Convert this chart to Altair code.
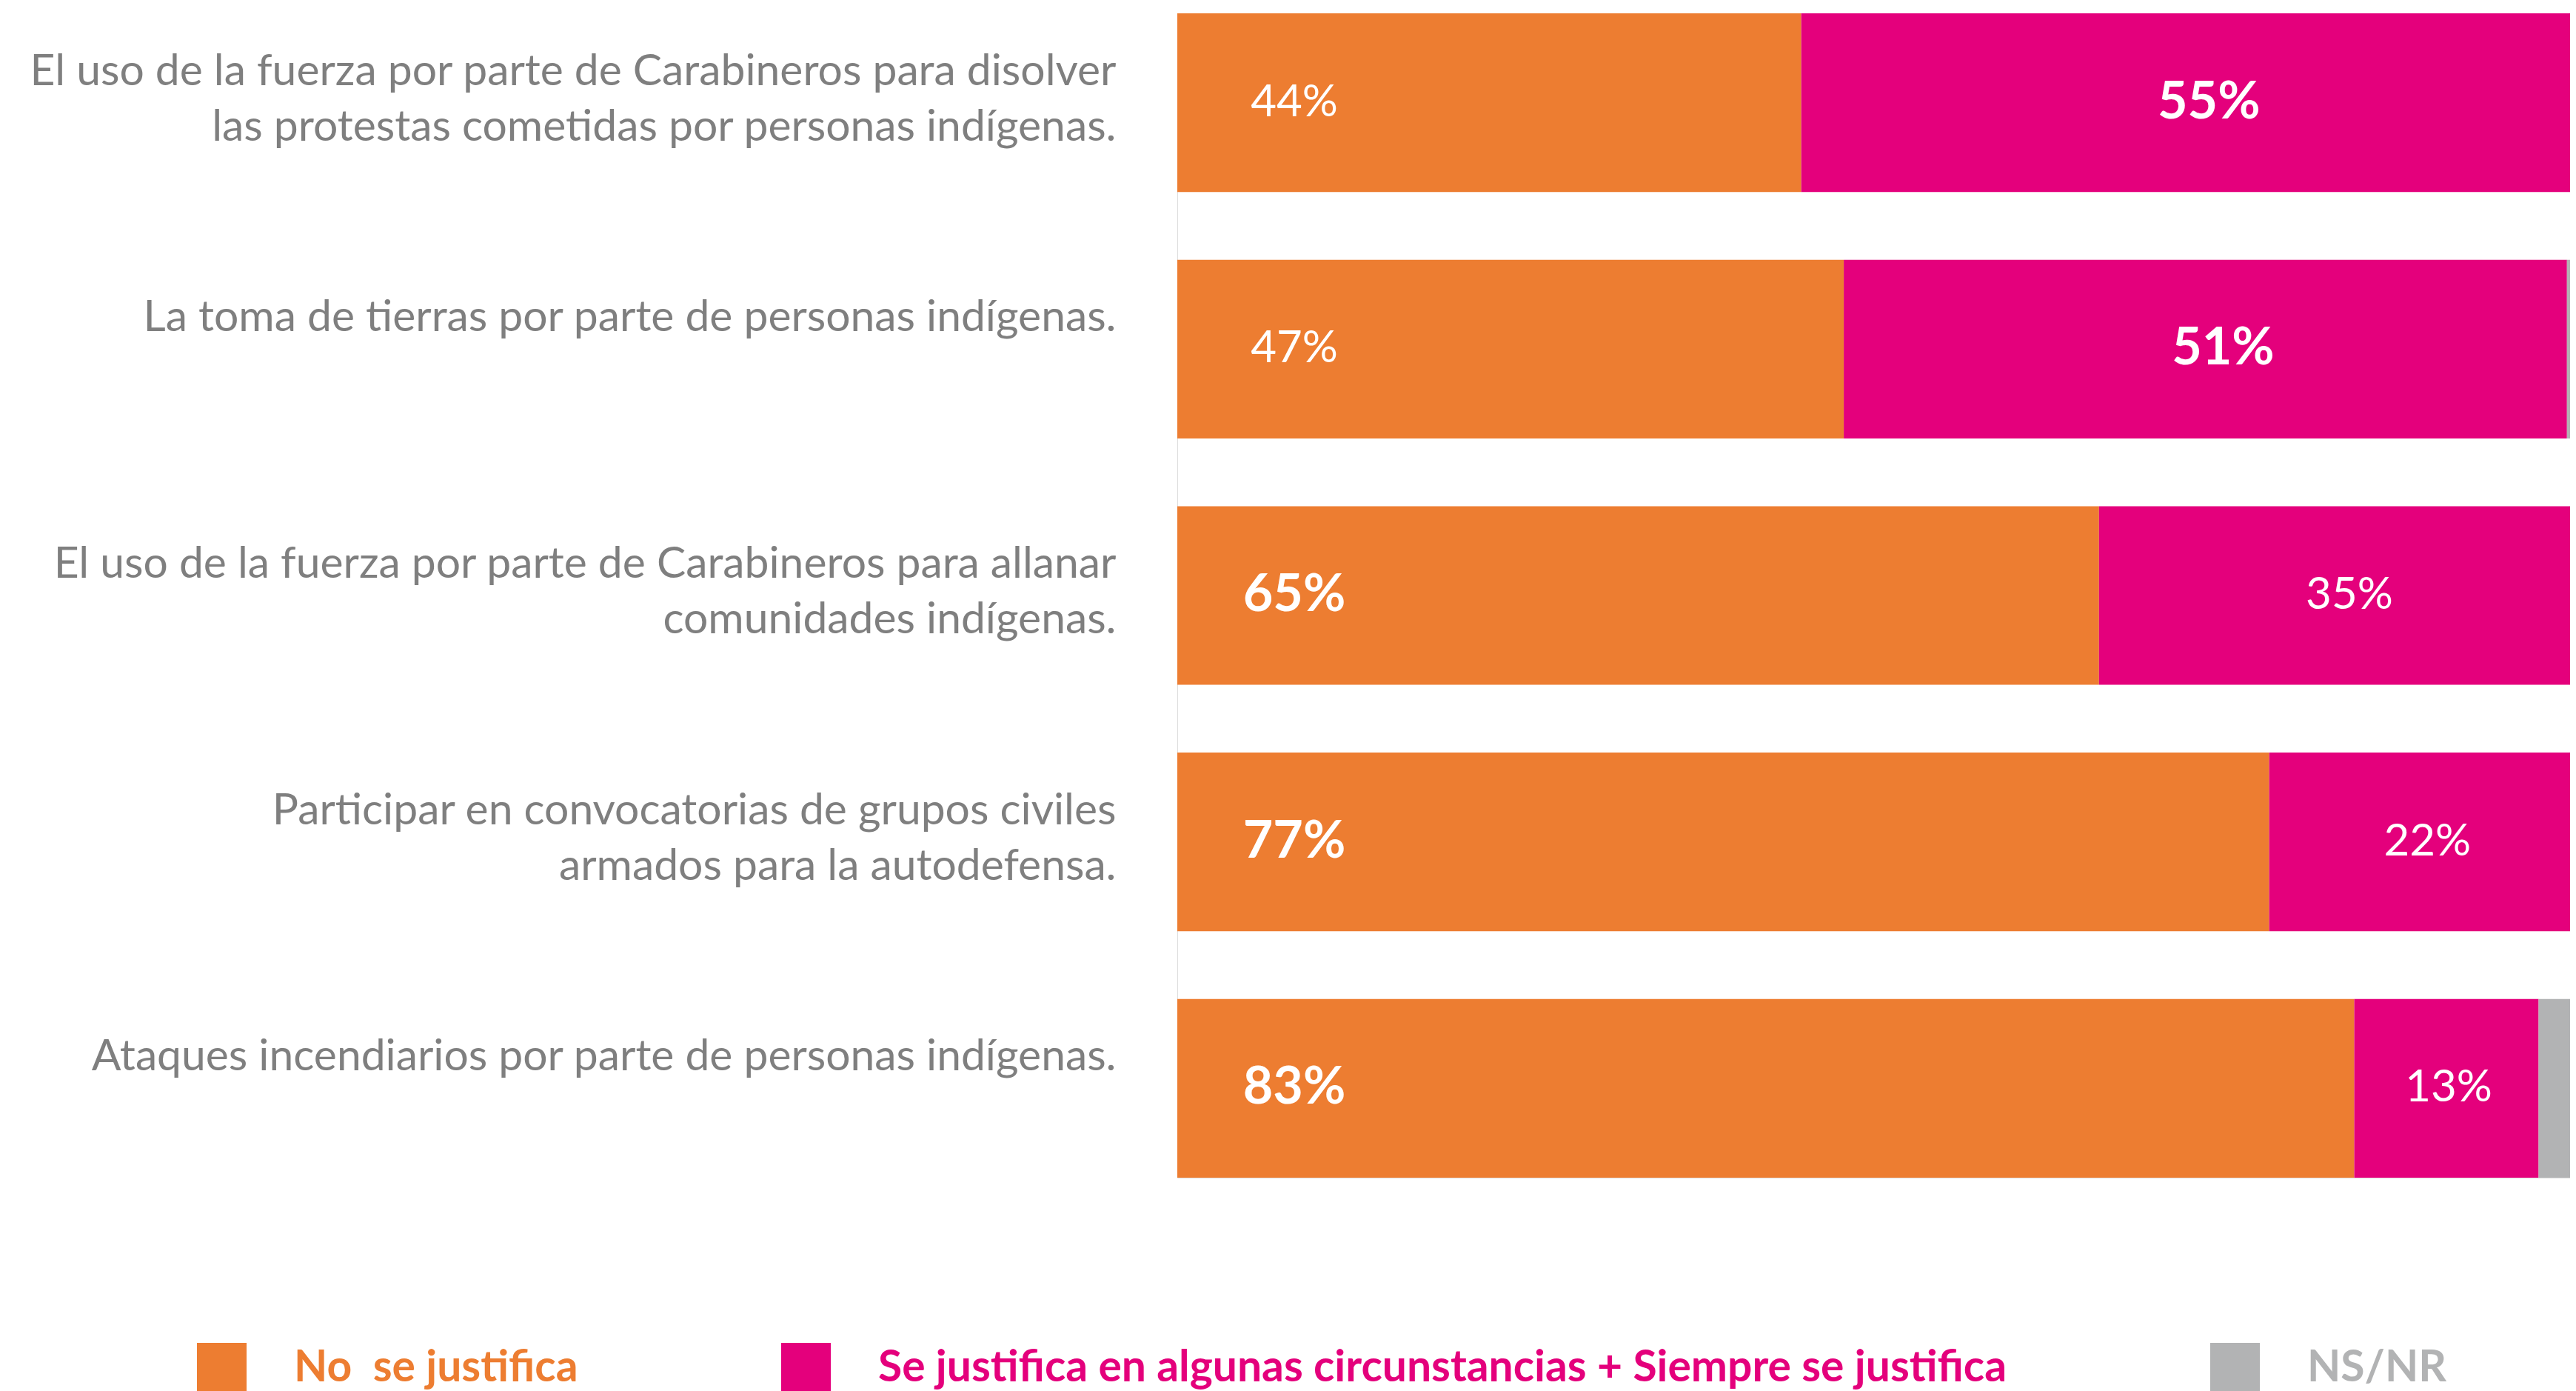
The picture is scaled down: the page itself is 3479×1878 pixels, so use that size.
import altair as alt
import pandas as pd

categories = [
    "El uso de la fuerza por parte de Carabineros para disolver\u2002|las protestas cometidas por personas indígenas.",
    "La toma de tierras por parte de personas indígenas.",
    "El uso de la fuerza por parte de Carabineros para allanar|comunidades indígenas.",
    "Participar en convocatorias de grupos civiles|armados para la autodefensa.",
    "Ataques incendiarios por parte de personas indígenas.",
]
no_justifica = [44, 47, 65, 77, 83]
si_justifica = [55, 51, 35, 22, 13]
ns_nr = [1, 2, 0, 1, 4]

series = [
    "No\u00a0 se justifica",
    "Se justifica en algunas circunstancias + Siempre se justifica",
    "NS/NR",
]
colors = ["#ED7D31", "#E4007C", "#B2B3B4"]

wide = pd.DataFrame({"cat": categories, "no": no_justifica, "si": si_justifica, "ns": ns_nr})

rows = []
for i, c in enumerate(categories):
    for k, (s, vals) in enumerate(zip(series, [no_justifica, si_justifica, ns_nr])):
        rows.append({"cat": c, "series": s, "value": vals[i], "order": k})
long = pd.DataFrame(rows)

y_enc = alt.Y(
    "cat:N",
    sort=categories,
    scale=alt.Scale(paddingInner=0.275, paddingOuter=0),
    axis=alt.Axis(
        title=None, domain=False, ticks=False, grid=False,
        labelExpr="split(datum.label, '|')",
        labelFont="Lato", labelFontSize=58.8, labelColor="#7f7f7f",
        labelPadding=83, labelBaseline="top", labelOffset=-70,
        labelLineHeight=75, labelLimit=3000, labelAlign="right",
    ),
)
# visible part of the 0-100 % axis (the right end is cut off, as in the source image)
x_scale = alt.Scale(domain=[0, 98.22], nice=False, zero=True)

legend_color = (
    "datum.label == 'NS/NR' ? '#B2B3B4' : "
    "(indexof(datum.label, 'algunas') >= 0 ? '#E4007C' : '#ED7D31')"
)

bars = alt.Chart(long).mark_bar(clip=True).encode(
    y=y_enc,
    x=alt.X("value:Q", stack="zero", scale=x_scale, axis=None),
    color=alt.Color(
        "series:N",
        scale=alt.Scale(domain=series, range=colors),
        legend=alt.Legend(
            title=None, orient="none", legendX=-1324, legendY=1795,
            direction="horizontal", symbolType="square", symbolSize=4489,
            symbolStrokeWidth=0, symbolOpacity=1,
            labelFont="Lato", labelFontSize=58.8, labelFontWeight="bold",
            labelOffset=64, columnPadding=274, labelLimit=3000, padding=0,
            labelColor=alt.ExprRef(expr=legend_color),
        ),
    ),
    order=alt.Order("order:Q"),
)

base = alt.Chart(wide)

no_pos = base.transform_calculate(start="0", lbl="datum.no + '%'")
no_bold = no_pos.transform_filter("datum.no > 50").mark_text(
    font="Lato", fontSize=70, fontWeight="bold", color="white",
    align="center", baseline="middle", dx=158,
).encode(y=y_enc, x=alt.X("start:Q", scale=x_scale), text="lbl:N")
no_reg = no_pos.transform_filter("datum.no <= 50").mark_text(
    font="Lato", fontSize=60, fontWeight="normal", color="white",
    align="center", baseline="middle", dx=158,
).encode(y=y_enc, x=alt.X("start:Q", scale=x_scale), text="lbl:N")

si_pos = base.transform_calculate(mid="datum.no + datum.si / 2", lbl="datum.si + '%'")
si_bold = si_pos.transform_filter("datum.si > 50").mark_text(
    font="Lato", fontSize=70, fontWeight="bold", color="white",
    align="center", baseline="middle", dx=24,
).encode(y=y_enc, x=alt.X("mid:Q", scale=x_scale), text="lbl:N")
si_reg = si_pos.transform_filter("datum.si <= 50").mark_text(
    font="Lato", fontSize=60, fontWeight="normal", color="white",
    align="center", baseline="middle", dx=3,
).encode(y=y_enc, x=alt.X("mid:Q", scale=x_scale), text="lbl:N")

chart = alt.layer(bars, no_bold, no_reg, si_bold, si_reg).properties(
    width=1881,
    height=1572,
    padding={"left": 1582, "top": 10, "right": 0, "bottom": 310},
    autosize=alt.AutoSizeParams(type="none"),
).configure_view(stroke=None).configure(background="white")

chart.save("out.html", embed_options={"renderer": "svg", "actions": False})
